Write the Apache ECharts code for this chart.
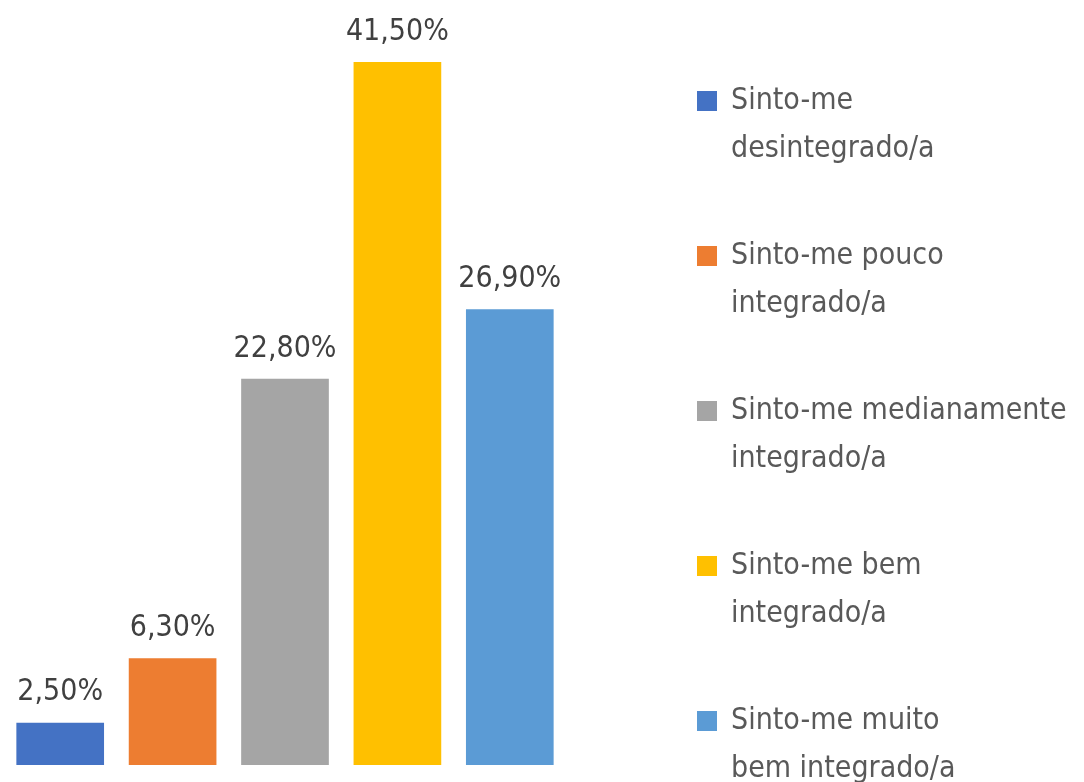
<!DOCTYPE html>
<html>
<head>
<meta charset="utf-8">
<script src="https://cdn.jsdelivr.net/npm/echarts@6/dist/echarts.min.js"></script>
<style>
  html, body { margin: 0; padding: 0; background: #fff; }
  #chart { width: 1084px; height: 782px; }
</style>
</head>
<body>
<div id="chart"></div>
<script>
// categorias e valores (%)
const categories = [
  'Sinto-me desintegrado/a',
  'Sinto-me pouco integrado/a',
  'Sinto-me medianamente integrado/a',
  'Sinto-me bem integrado/a',
  'Sinto-me muito bem integrado/a'
]
// texto da legenda, quebrado em duas linhas
const legendLines = [
  ['Sinto-me', 'desintegrado/a'],
  ['Sinto-me pouco', 'integrado/a'],
  ['Sinto-me medianamente', 'integrado/a'],
  ['Sinto-me bem', 'integrado/a'],
  ['Sinto-me muito', 'bem integrado/a']
]
const values = [2.5, 6.3, 22.8, 41.5, 26.9]
const colors = ['#4472C4', '#ED7D31', '#A5A5A5', '#FFC000', '#5B9BD5']

const FONT = '"DejaVu Sans Condensed", "Liberation Sans Narrow", sans-serif'

const chart = echarts.init(document.getElementById('chart'))

const series = categories.map((name, i) => ({
  name: name,
  type: 'bar',
  stack: 'total',
  barWidth: '78%',
  itemStyle: { color: colors[i] },
  label: {
    show: true,
    position: 'top',
    distance: 15,
    fontFamily: FONT,
    fontSize: 30,
    color: '#404040',
    formatter: p => p.value.toFixed(2).replace('.', ',') + '%'
  },
  data: values.map((v, j) => (j === i ? v : '-'))
}))

chart.setOption({
  animation: false,
  grid: { left: 4, width: 562, top: 62, bottom: 17 },
  xAxis: {
    type: 'category',
    data: categories,
    show: false
  },
  yAxis: {
    type: 'value',
    min: 0,
    max: 41.5,
    show: false
  },
  legend: {
    orient: 'vertical',
    left: 692,
    top: 24,
    height: 820,
    itemWidth: 20,
    itemHeight: 20,
    itemGap: 11,
    icon: 'rect',
    data: categories,
    textStyle: {
      fontFamily: FONT,
      fontSize: 30,
      color: '#595959',
      lineHeight: 48,
      padding: [0, 0, 0, 9]
    },
    formatter: name => {
      const lines = legendLines[categories.indexOf(name)]
      return '\n' + lines.join('\n')
    }
  },
  series: series
})
</script>
</body>
</html>
